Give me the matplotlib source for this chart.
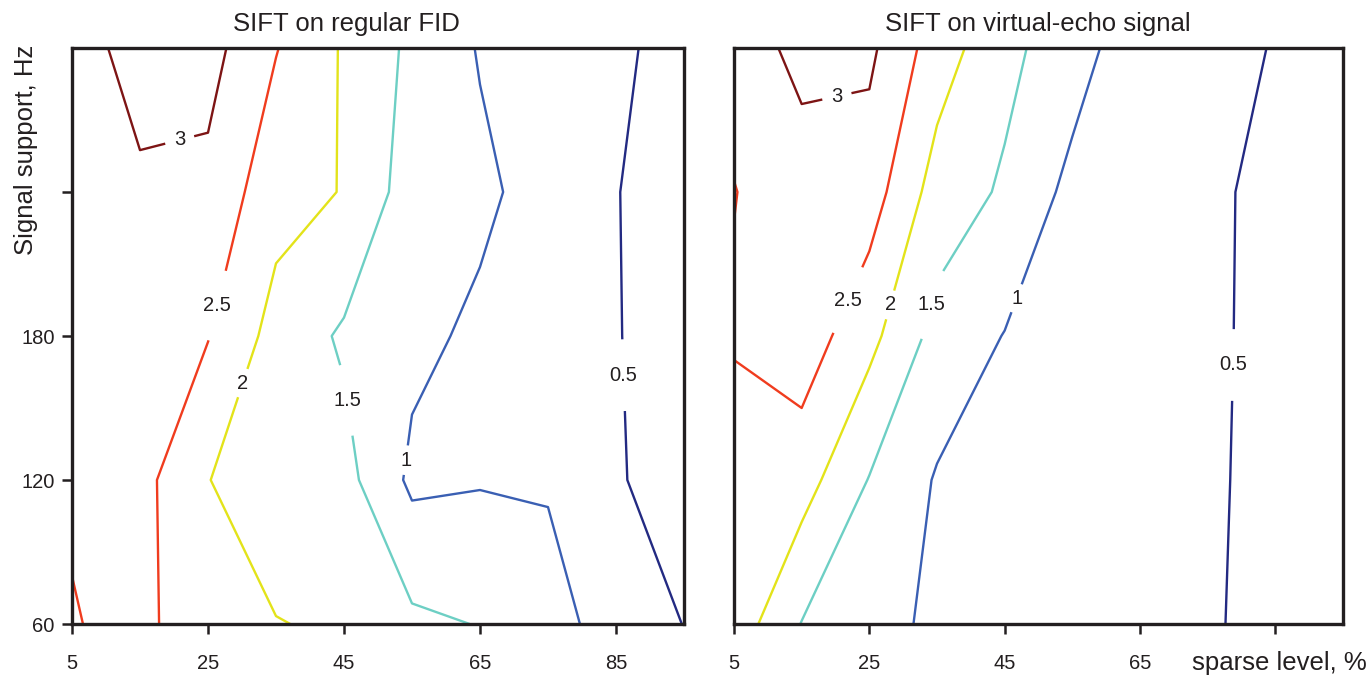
import numpy as np
import matplotlib
matplotlib.use('Agg')
import matplotlib.pyplot as plt

plt.rcParams['font.family'] = ['Liberation Sans', 'DejaVu Sans']

# ---- data -------------------------------------------------------------
sparse_level = [5, 15, 25, 35, 45, 55, 65, 75, 85, 95]      # %
signal_support = [60, 120, 180, 240, 300]                   # Hz

# error surface, rows = signal support, cols = sparse level
err_regular = [
    [2.485, 2.578, 2.300, 2.0175, 1.934, 1.600, 1.482, 1.177, 0.800, 0.490],
    [2.530, 2.662, 2.0125, 1.700, 1.669, 0.900, 0.964, 0.959, 0.540, 0.300],
    [2.750, 2.750, 2.521, 1.817, 1.430, 1.120, 0.908, 0.750, 0.520, 0.300],
    [2.800, 2.918, 2.876, 2.180, 1.978, 1.254, 1.100, 0.806, 0.510, 0.350],
    [2.774, 3.200, 3.177, 2.523, 1.948, 1.395, 0.966, 0.800, 0.550, 0.400],
]
err_echo = [
    [2.290, 1.484, 1.300, 0.840, 0.750, 0.650, 0.580, 0.525, 0.430, 0.380],
    [2.300, 2.213, 1.478, 0.958, 0.850, 0.720, 0.600, 0.540, 0.420, 0.360],
    [2.540, 2.787, 2.148, 1.328, 0.983, 0.800, 0.650, 0.550, 0.420, 0.360],
    [2.490, 2.686, 2.746, 1.780, 1.434, 0.860, 0.650, 0.550, 0.428, 0.350],
    [2.620, 3.200, 3.102, 2.255, 1.633, 1.224, 0.678, 0.600, 0.485, 0.400],
]

levels = [0.5, 1.0, 1.5, 2.0, 2.5, 3.0]
level_colors = ['#232a82', '#3a5fb3', '#6dcfc4', '#e3e31a', '#f03c1e', '#7d1414']

# approximate label anchor points (sparse level, support)
labels_regular = [(20.9, 261), (26.6, 192.5), (30.1, 160.4), (45.6, 153.3),
                  (54.0, 128.3), (86.3, 163.7)]
labels_echo = [(20.1, 281.2), (21.8, 195), (28.0, 193), (34.4, 193),
               (46.7, 195.8), (79.0, 167.9)]

xticks = [5, 25, 45, 65, 85]
yticks = [60, 120, 180, 240]
yticklabels = ['60', '120', '180', '']
titles = ['SIFT on regular FID', 'SIFT on virtual-echo signal']

# ---- figure -----------------------------------------------------------
W, H = 1371, 677
fig = plt.figure(figsize=(W / 100, H / 100), dpi=100)
ink = '#231f20'


def px_axes(x0, x1, y0, y1):
    return fig.add_axes([x0 / W, 1 - y1 / H, (x1 - x0) / W, (y1 - y0) / H])


ax1 = px_axes(72, 684, 48, 624)
ax2 = px_axes(734, 1343, 48, 624)


def draw_panel(ax, z, label_pos):
    cs = ax.contour(sparse_level, signal_support, np.array(z), levels=levels,
                    colors=level_colors, linewidths=1.7)
    ax.set_xlim(5, 95)
    ax.set_ylim(60, 300)
    texts = ax.clabel(cs, manual=label_pos, inline=True, inline_spacing=1,
                      fmt='%g', fontsize=36, colors=ink)
    for t in texts:
        t.set_rotation(0)
        t.set_fontsize(14.5)
    for s in ax.spines.values():
        s.set_linewidth(2.4)
        s.set_color(ink)
    ax.set_xticks(xticks)
    ax.tick_params(axis='both', direction='out', length=7.5, width=1.8,
                   color=ink, labelcolor=ink, labelsize=14.5)
    ax.tick_params(axis='x', pad=14)
    ax.tick_params(axis='y', pad=5)


draw_panel(ax1, err_regular, labels_regular)
draw_panel(ax2, err_echo, labels_echo)

ax1.set_yticks(yticks)
ax1.set_yticklabels(yticklabels)
ax2.set_yticks([])
ax2.set_xticklabels(['5', '25', '45', '65', ''])

fig.text(346.5 / W, 1 - 24 / H, titles[0], ha='center', va='center',
         fontsize=18.5, color=ink)
fig.text(1038 / W, 1 - 24 / H, titles[1], ha='center', va='center',
         fontsize=18.5, color=ink)
fig.text(26 / W, 1 - 150 / H, 'Signal support, Hz', rotation=90,
         ha='center', va='center', fontsize=18.5, color=ink)
fig.text(1367 / W, 1 - 663 / H, 'sparse level, %', ha='right', va='center',
         fontsize=18.5, color=ink)

fig.savefig('out.png', dpi=100)
